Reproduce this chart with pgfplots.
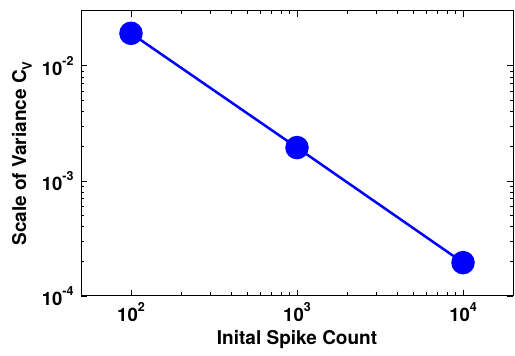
\documentclass[border=0pt]{standalone}
\usepackage{fontspec}
\setmainfont{TeX Gyre Heros}
\usepackage{pgfplots}
\pgfplotsset{compat=1.18}
\newcommand{\ee}[1]{10\raisebox{0.55em}{\fontsize{12.5}{13}\selectfont #1}}
\begin{document}
\fontsize{19}{22}\selectfont\bfseries
\begin{tikzpicture}
\begin{axis}[
  scale only axis,
  width=432pt, height=285pt,
  xmode=log, ymode=log,
  xmin=50, xmax=20000,
  ymin=1e-4, ymax=0.03,
  xtick={100,1000,10000},
  xticklabels={\ee{2},\ee{3},\ee{4}},
  ytick={1e-4,1e-3,1e-2},
  yticklabels={\ee{-4},\ee{-3},\ee{-2}},
  tick align=inside,
  major tick length=6pt,
  minor tick length=3.5pt,
  every tick/.style={black, line width=0.8pt},
  axis line style={line width=1pt},
  tick label style={font=\fontsize{18.5}{21}\selectfont\bfseries},
  label style={font=\fontsize{19}{22}\selectfont\bfseries},
  xlabel={Inital Spike Count},
  ylabel={Scale of Variance C\raisebox{-0.3em}{\fontsize{13}{14}\selectfont V}},
  xlabel style={yshift=4pt},
  ylabel style={yshift=-3pt},
  yticklabel style={xshift=-1pt},
]
\addplot[color={rgb,255:red,0;green,0;blue,255}, line width=2.5pt,
  mark=*, mark size=10.5pt, mark options={fill={rgb,255:red,0;green,0;blue,255}, draw={rgb,255:red,0;green,0;blue,255}}]
  coordinates {(100,0.0192) (1000,0.00195) (10000,0.000195)};
\coordinate (sw) at (rel axis cs:0,0);
\coordinate (ne) at (rel axis cs:1,1);
\end{axis}
\pgfresetboundingbox
\path ([shift={(-81pt,-60pt)}]sw) rectangle ([shift={(2pt,11pt)}]ne);
\end{tikzpicture}
\end{document}
